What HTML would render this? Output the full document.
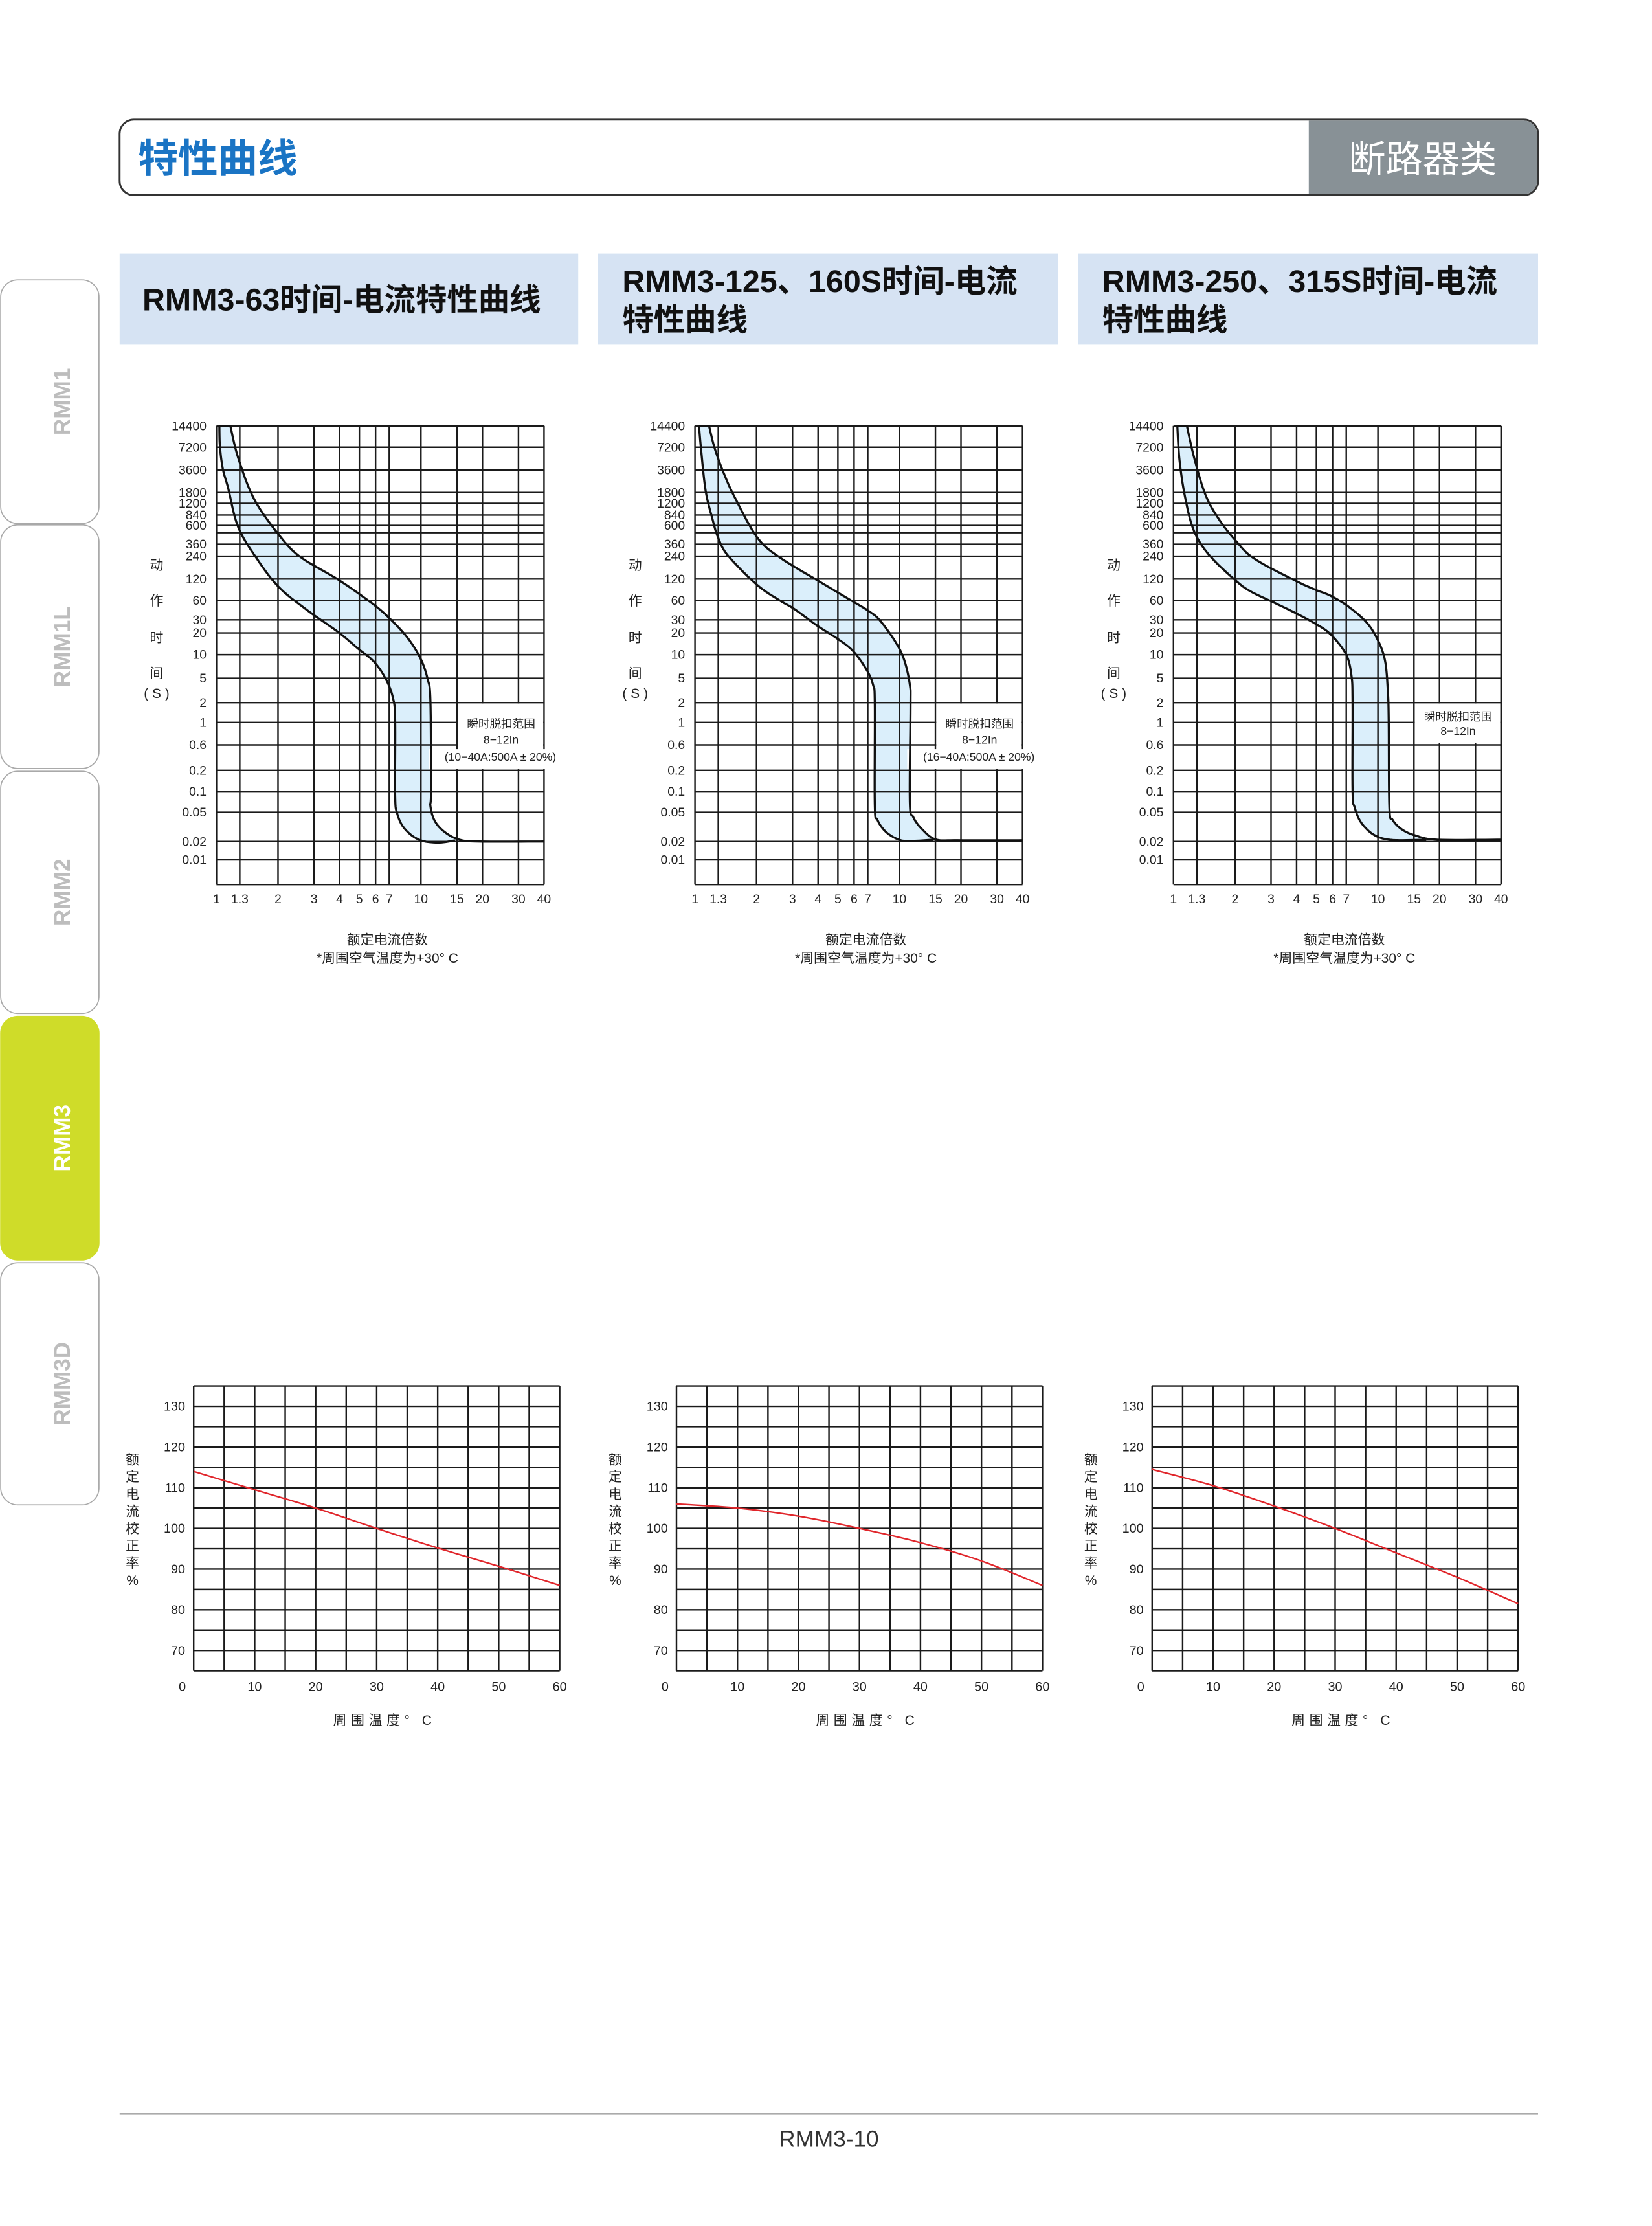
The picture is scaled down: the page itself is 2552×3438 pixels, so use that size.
<!DOCTYPE html>
<html><head><meta charset="utf-8"><style>
html,body{margin:0;padding:0;background:#fff;}
svg{display:block;}
text{font-family:"Liberation Sans","Noto Sans CJK SC",sans-serif;}
</style></head><body>
<svg id="s" xmlns="http://www.w3.org/2000/svg" width="2552" height="3438" viewBox="0 0 1160 1562.73">
<rect x="0" y="0" width="1160" height="1563" fill="#fff"/>
<path d="M94,84 H1070 A10,10 0 0 1 1080,94 V127 A10,10 0 0 1 1070,137 H94 A10,10 0 0 1 84,127 V94 A10,10 0 0 1 94,84 Z" fill="#fff" stroke="#333" stroke-width="1.3"/>
<path d="M919,84.7 H1070 A9.3,9.3 0 0 1 1079.3,94 V127 A9.3,9.3 0 0 1 1070,136.3 H919 Z" fill="#889196"/>
<text x="97" y="121" font-size="28" font-weight="bold" fill="#1a74c4">特性曲线</text>
<text x="947" y="121" font-size="26" fill="#fff">断路器类</text>
<rect x="84" y="178" width="322" height="64" fill="#d6e3f3"/>
<rect x="420" y="178" width="323" height="64" fill="#d6e3f3"/>
<rect x="757" y="178" width="323" height="64" fill="#d6e3f3"/>
<text x="100" y="218" font-size="22" font-weight="bold" fill="#111">RMM3-63时间-电流特性曲线</text>
<text x="437" y="205" font-size="22" font-weight="bold" fill="#111">RMM3-125、160S时间-电流</text>
<text x="437" y="232" font-size="22" font-weight="bold" fill="#111">特性曲线</text>
<text x="774" y="205" font-size="22" font-weight="bold" fill="#111">RMM3-250、315S时间-电流</text>
<text x="774" y="232" font-size="22" font-weight="bold" fill="#111">特性曲线</text>
<g id="tabs"></g>
<g id="charts"></g>
<line x1="84" y1="1484" x2="1080" y2="1484" stroke="#aaa" stroke-width="0.8"/>
<text x="582" y="1507" font-size="16" fill="#333" text-anchor="middle">RMM3-10</text>
</svg>
<script>
var NS="http://www.w3.org/2000/svg";
var C=document.getElementById("charts"), TB=document.getElementById("tabs");
function el(p,n,a,t){var e=document.createElementNS(NS,n);for(var k in a)e.setAttribute(k,a[k]);if(t!==undefined)e.textContent=t;p.appendChild(e);return e;}
var tb=[[196,368,"RMM1"],[368,540,"RMM1L"],[541,712,"RMM2"],[713,885,"RMM3"],[886,1057,"RMM3D"]];
tb.forEach(function(t){
  var act=t[2]=="RMM3";
  el(TB,"rect",{x:0.5,y:t[0]+0.5,width:69,height:t[1]-t[0]-1,rx:12,ry:12,fill:act?"#cfdc29":"#fff",stroke:act?"#cfdc29":"#a9a9a9","stroke-width":0.8});
  var cy=(t[0]+t[1])/2;
  el(TB,"text",{x:0,y:0,transform:"translate(49,"+cy+") rotate(-90)","text-anchor":"middle","font-size":16,"font-weight":"bold",fill:act?"#fff":"#bdbdbd"},t[2]);
});
function smooth(p){var out=[];for(var i=0;i<p.length-1;i++){var p0=p[Math.max(0,i-1)],p1=p[i],p2=p[i+1],p3=p[Math.min(p.length-1,i+2)];
 for(var s=0;s<10;s++){var t=s/10,t2=t*t,t3=t2*t;
 out.push([0.5*((2*p1[0])+(-p0[0]+p2[0])*t+(2*p0[0]-5*p1[0]+4*p2[0]-p3[0])*t2+(-p0[0]+3*p1[0]-3*p2[0]+p3[0])*t3),
 0.5*((2*p1[1])+(-p0[1]+p2[1])*t+(2*p0[1]-5*p1[1]+4*p2[1]-p3[1])*t2+(-p0[1]+3*p1[1]-3*p2[1]+p3[1])*t3)]);}}
 out.push(p[p.length-1]);return out;}
function pts(a){return a.map(function(q){return q[0].toFixed(2)+","+q[1].toFixed(2);}).join(" ");}
var YZ=[65,122,183,243,272,303,331,350,381,413,474,531,583,618,676,739,804,857,917,985,1041,1097,1175,1224,1290];
var YL=["14400","7200","3600","1800","1200","840","600","","360","240","120","60","30","20","10","5","2","1","0.6","0.2","0.1","0.05","0.02","0.01",""];
var XV=[1,1.3,2,3,4,5,6,7,10,15,20,30,40];
function topChart(ox,z,lower,upper,lines,box3){
  var L=152+ox,R=382+ox,T=299,B=621;
  function mx(v){return L+(v-z[0])/(z[1]-z[0])*230;}
  function my(v){return T+(v-z[2])/(z[3]-z[2])*322;}
  var lo=smooth(lower.map(function(q){return[mx(q[0]),my(q[1])];}));
  var up=smooth(upper.map(function(q){return[mx(q[0]),my(q[1])];}));
  el(C,"polygon",{points:pts(lo.concat(up.slice().reverse())),fill:"#dbeffb"});
  var yy=YZ.map(function(v){return T+(v-65)/1225*322;});
  var xp=function(v){return L+Math.log(v)/Math.log(40)*230;};
  var g=el(C,"g",{stroke:"#1a1a1a","stroke-width":1.1,fill:"none"});
  yy.forEach(function(y){el(g,"line",{x1:L,y1:y,x2:R,y2:y});});
  XV.forEach(function(v){el(g,"line",{x1:xp(v),y1:T,x2:xp(v),y2:B});});
  var y2=yy[16],y06=yy[18],y02=yy[19],x15=xp(15);
  var bb=box3?y02-0.7:y06-0.7;
  el(C,"rect",{x:x15+0.6,y:y2+0.6,width:R-x15-1.2,height:bb-y2-1.2,fill:"#fff"});
  if(box3) el(C,"rect",{x:L+149,y:y06+3,width:83,height:y02-y06-4,fill:"#fff"});
  var tx=x15+31;
  el(C,"text",{x:tx,y:box3?511:506,"font-size":8,"text-anchor":"middle",fill:"#222"},"瞬时脱扣范围");
  el(C,"text",{x:tx,y:box3?522:516,"font-size":8,"text-anchor":"middle",fill:"#222"},"8−12In");
  if(box3) el(C,"text",{x:tx-0.5,y:534,"font-size":8,"text-anchor":"middle",fill:"#222"},box3);
  var cg=el(C,"g",{stroke:"#111","stroke-width":1.5,fill:"none","stroke-linejoin":"round"});
  el(cg,"polyline",{points:pts(lo)});el(cg,"polyline",{points:pts(up)});
  el(cg,"line",{x1:lo[0][0],y1:T,x2:up[0][0],y2:T});
  yy.forEach(function(y,i){if(YL[i])el(C,"text",{x:L-7,y:y+3,"font-size":8.8,"text-anchor":"end",fill:"#222"},YL[i]);});
  XV.forEach(function(v){el(C,"text",{x:xp(v),y:634,"font-size":8.8,"text-anchor":"middle",fill:"#222"},String(v));});
  var ax=ox+110;
  [["动",400],["作",425],["时",451],["间",476],["( S )",490]].forEach(function(c){el(C,"text",{x:ax,y:c[1],"font-size":9.5,"text-anchor":"middle",fill:"#222"},c[0]);});
  el(C,"text",{x:L+120,y:663,"font-size":9.5,"text-anchor":"middle",fill:"#222"},"额定电流倍数");
  el(C,"text",{x:L+120,y:676,"font-size":9.5,"text-anchor":"middle",fill:"#222"},"*周围空气温度为+30°  C");
}
topChart(0,[340,1473,65,1290],
 [[350,65],[352,120],[362,180],[380,230],[415,335],[480,420],[555,495],[650,555],[760,615],[830,660],[885,695],[925,740],[950,790],[958,850],[958,1050],[965,1100],[990,1140],[1040,1170],[1105,1178],[1165,1172]],
 [[388,65],[415,150],[470,260],[555,355],[630,415],[760,475],[880,540],[940,580],[1000,630],[1045,685],[1070,740],[1080,800],[1082,1040],[1080,1080],[1095,1120],[1130,1150],[1180,1170],[1250,1175],[1473,1175]],
 0,"(10−40A:500A ± 20%)");
topChart(336,[22,1490,38,1530],
 [[40,38],[50,120],[70,250],[100,340],[125,400],[170,460],[300,555],[400,605],[470,635],[570,688],[660,730],[730,770],[790,830],[820,880],[828,940],[828,1270],[840,1320],[880,1360],[940,1385],[1000,1388],[1090,1384]],
 [[85,38],[110,110],[150,190],[200,270],[300,400],[400,465],[570,540],[720,605],[800,640],[850,670],[920,740],[960,800],[985,880],[988,950],[985,1260],[1000,1310],[1040,1350],[1100,1383],[1200,1386],[1490,1386]],
 0,"(16−40A:500A ± 20%)");
topChart(672,[18,1485,38,1530],
 [[35,38],[45,150],[70,270],[110,380],[180,460],[295,540],[360,575],[460,610],[560,645],[650,680],[720,715],[790,780],[815,850],[820,940],[820,1225],[830,1280],[860,1330],[920,1370],[1000,1385],[1150,1384]],
 [[78,38],[110,140],[160,260],[220,340],[295,410],[380,470],[560,540],[650,570],[720,590],[800,625],[880,675],[930,730],[965,800],[978,900],[982,1000],[985,1280],[1000,1320],[1040,1350],[1100,1370],[1200,1384],[1485,1384]],
 0,null);
function botChart(ox,data){
  var L=136+ox,R=393+ox,T=973,B=1173,W=R-L,H=B-T;
  var g=el(C,"g",{stroke:"#1a1a1a","stroke-width":1.1});
  for(var i=0;i<=14;i++){var y=T+H*i/14;el(g,"line",{x1:L,y1:y,x2:R,y2:y});}
  for(var j=0;j<=12;j++){var x=L+W*j/12;el(g,"line",{x1:x,y1:T,x2:x,y2:B});}
  var p=data.map(function(d){return[L+d[0]/60*W,T+(135-d[1])/70*H];});
  el(C,"polyline",{points:pts(smooth(p)),fill:"none",stroke:"#e0262b","stroke-width":1.1});
  for(var v=130;v>=70;v-=10){el(C,"text",{x:L-6,y:T+(135-v)/70*H+3,"font-size":9,"text-anchor":"end",fill:"#222"},String(v));}
  for(var k=0;k<=60;k+=10){el(C,"text",{x:k==0?L-8:L+k/60*W,y:1187,"font-size":9,"text-anchor":"middle",fill:"#222"},String(k));}
  var ch=["额","定","电","流","校","正","率","%"];
  ch.forEach(function(c,i){el(C,"text",{x:L-43,y:1028+i*12.1,"font-size":9.5,"text-anchor":"middle",fill:"#222"},c);});
  el(C,"text",{x:L+134,y:1211,"font-size":9.5,"text-anchor":"middle",fill:"#222","letter-spacing":"3"},"周围温度° C");
}
botChart(0,[[0,114],[10,109.5],[20,105],[30,100],[40,95.2],[50,90.7],[60,86]]);
botChart(339,[[0,106],[10,105],[20,103],[30,100],[40,96.5],[50,92],[60,86]]);
botChart(673,[[0,114.5],[10,110.5],[20,105.5],[30,100],[40,94],[50,88],[60,81.5]]);
</script>
</body></html>
